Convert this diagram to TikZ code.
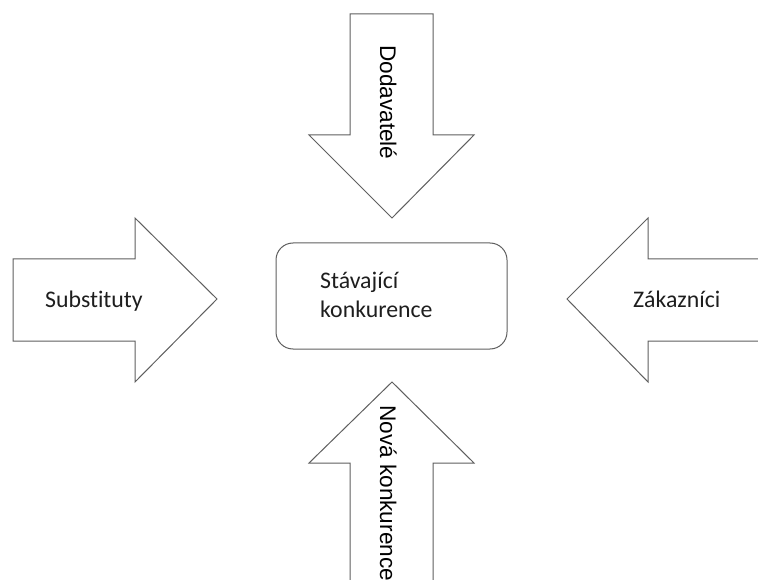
\documentclass[tikz,border=0pt]{standalone}
\usepackage{fontspec}
\setmainfont{Carlito}[Ligatures={NoCommon}]
\newfontfamily\arialf{Liberation Sans}
\definecolor{lc}{RGB}{95,95,95}
\definecolor{tc}{RGB}{30,30,30}
\begin{document}
\begin{tikzpicture}[x=1pt,y=-1pt,
  outline/.style={draw=lc, line width=1pt, line join=miter, fill=white},
  htext/.style={font=\fontsize{23.8}{28}\selectfont, text=tc, inner sep=0pt, anchor=base west},
  vtext/.style={font=\arialf\fontsize{22.6}{28}\selectfont, text=black, inner sep=0pt, rotate=-90, anchor=base west}]
\useasboundingbox (0,0) rectangle (758,580);
% top arrow
\draw[outline] (350,14) -- (433,14) -- (433,135) -- (474,135) -- (392,218) -- (309,135) -- (350,135) -- cycle;
% left arrow
\draw[outline] (13,259) -- (135,259) -- (135,218) -- (217,299) -- (135,382) -- (135,341) -- (13,341) -- cycle;
% right arrow
\draw[outline] (759,259) -- (648,259) -- (648,218) -- (567,299) -- (648,382) -- (648,341) -- (759,341);
% bottom arrow
\draw[outline] (350,581) -- (350,463) -- (309,463) -- (392,382) -- (474,463) -- (433,463) -- (433,581);
% central box
\node[draw=lc, line width=1pt, rounded corners=17pt, minimum width=231pt, minimum height=106pt, inner sep=0pt] (box) at (391.5,296) {};
\node[htext] (stav1) at (320,289) {Stávající};
\node[htext] (stav2) at (320,317) {konkurence};
\node[htext] (subst) at (45,308) {Substituty};
\node[htext] (zak) at (633,308) {Zákazníci};
\node[vtext] (dod) at (380,45) {Dodavatelé};
\node[vtext] (nova) at (380,405) {Nová konkurence};
\end{tikzpicture}
\end{document}
